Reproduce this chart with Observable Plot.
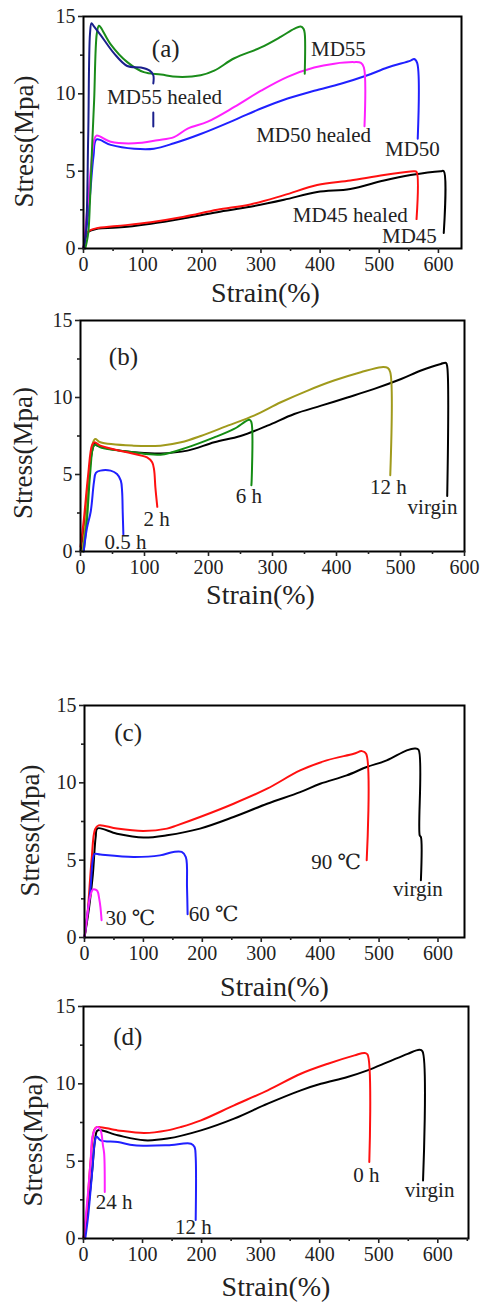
<!DOCTYPE html>
<html>
<head>
<meta charset="utf-8">
<script src="https://cdn.jsdelivr.net/npm/d3@7"></script>
<script src="https://cdn.jsdelivr.net/npm/@observablehq/plot@0.6"></script>
<style>
  html, body { margin: 0; padding: 0; background: #fff; }
  #wrap { position: relative; width: 480px; height: 1303px; overflow: hidden; }
  #wrap svg { position: absolute; left: 0; overflow: visible; background: transparent; }
</style>
</head>
<body>
<div id="wrap"></div>
<script>
// ---------- tick values ----------
const xMajor = [0, 100, 200, 300, 400, 500, 600];
const xMinor = [50, 150, 250, 350, 450, 550, 650];
const yMajor = [0, 5, 10, 15];
const yMinor = [2.5, 7.5, 12.5];

// ---------- panel (a) ----------
const a_MD55 = [[3,0],[8,1],[11,3.1],[15,7],[18,9.6],[22.5,13.9],[26,14.4],[29,14.3],[46,13.2],[74,12.05],[102,11.4],[131,11.25],[159,11.1],[198,11.2],[221,11.5],[255,12.3],[300,13.0],[334,13.7],[356,14.2],[367,14.35],[372,14.2],[374,13.9],[374,11.3]];
const a_MD55h = [[0,0],[4,1.0],[8,7.4],[11,13.9],[13.5,14.57],[17,14.4],[29,13.8],[52,12.6],[74,11.8],[97,11.7],[112,11.5],[118,11.2],[118,10.67],[118,NaN],[118,8.79],[118,7.89]];
const a_MD50h = [[0,0],[5,2],[12,5],[18,7],[22,7.3],[46,6.9],[86,6.8],[125,7.0],[153,7.2],[176,7.75],[210,8.2],[255,9.15],[300,10.2],[345,11.1],[390,11.7],[424,11.95],[457,12.05],[469,12.0],[474,11.7],[475,7.9]];
const a_MD50 = [[0,0],[4,1],[10,3],[17,6],[22,7.05],[46,6.7],[86,6.45],[119,6.45],[153,6.8],[198,7.4],[255,8.3],[300,9.05],[345,9.7],[390,10.2],[435,10.65],[480,11.2],[514,11.7],[553,12.15],[559,12.25],[564,12.0],[565,7.1]];
const a_MD45h = [[0,0],[2,0.5],[5,1.0],[10,1.15],[21,1.3],[57,1.45],[114,1.7],[170,2.05],[226,2.5],[282,2.85],[339,3.45],[395,4.1],[451,4.4],[508,4.75],[559,5.0],[563,4.95],[563,1.9]];
const a_MD45 = [[0,0],[3,0.6],[6,1.0],[12,1.15],[25,1.3],[57,1.35],[114,1.6],[170,1.95],[226,2.35],[282,2.7],[339,3.15],[395,3.65],[451,3.85],[508,4.4],[553,4.75],[604,5.0],[609,5.0],[609,1.0]];
const a_labels = ["(a)", "MD55", "MD55 healed", "MD50 healed", "MD50", "MD45 healed", "MD45"];
const a_labelX = [139, 431, 137, 389, 556, 451, 551];
const a_labelY = [12.93, 12.86, 9.76, 7.3, 6.4, 2.13, 0.78];

// ---------- panel (b) ----------
const b_virgin = [[0,0],[5,1.5],[12,4.5],[18,6.5],[22,7.0],[26,6.87],[83,6.44],[125,6.37],[167,6.55],[209,7.09],[250,7.5],[292,8.17],[334,8.93],[376,9.47],[417,10.0],[459,10.56],[501,11.2],[532,11.75],[563,12.18],[571,12.25],[573,12.0],[573,3.6]];
const b_12h = [[3,0],[8,2],[14,5],[19,7],[23,7.3],[31,7.09],[83,6.87],[125,6.87],[157,7.09],[188,7.5],[230,8.17],[271,8.82],[313,9.69],[355,10.45],[396,11.1],[438,11.64],[470,11.97],[480,11.92],[484,11.64],[484,4.95]];
const b_6h = [[5,0],[10,2],[15,5],[20,6.8],[24,6.95],[31,6.76],[83,6.44],[125,6.29],[167,6.76],[209,7.41],[240,7.96],[264,8.55],[267,8.4],[267,4.3]];
const b_2h = [[0,0.3],[5,2],[12,5],[18,6.9],[22,7.1],[31,6.87],[73,6.44],[104,6.11],[112,5.8],[115,5.3],[117,4.16],[120,2.9]];
const b_05h = [[5,0],[10,1.5],[16,2.6],[21,4.5],[24,5.1],[31,5.25],[47,5.25],[57,5.03],[63,4.6],[65,3.9],[66,2.5],[67,1.1]];
const b_labels = ["(b)", "12 h", "virgin", "6 h", "2 h", "0.5 h"];
const b_labelX = [67, 481, 550, 263, 119, 70.5];
const b_labelY = [12.6, 4.16, 2.86, 3.57, 2.08, 0.58];

// ---------- panel (c) ----------
const c_virgin = [[0,0],[8,2],[14,4],[19,6.5],[22,7.05],[55,6.71],[100,6.46],[140,6.61],[196,7.04],[253,7.79],[310,8.65],[366,9.4],[400,9.94],[445,10.48],[479,11.02],[513,11.45],[547,12.1],[561,12.22],[567,12.14],[569,6.6],[571,6.5],[571,3.7]];
const c_90 = [[0,0],[5,1.5],[12,5],[18,7],[24,7.25],[55,7.04],[100,6.89],[140,7.04],[157,7.25],[196,7.79],[253,8.65],[310,9.62],[366,10.8],[411,11.45],[457,11.88],[471,12.05],[478,11.88],[479,5.0]];
const c_60 = [[0,0],[5,1.5],[10,3.1],[14,5],[17,5.4],[27,5.36],[83,5.2],[128,5.31],[151,5.53],[165,5.53],[172,5.2],[174,3.27],[175,1.5]];
const c_30 = [[0,0],[5,1.55],[10,2.7],[14,3.1],[18,3.1],[22,3.0],[25,2.5],[27,1.98],[29,1.12]];
const c_labels = ["(c)", "90 ℃", "virgin", "60 ℃", "30 ℃"];
const c_labelX = [74, 427, 566, 219, 78];
const c_labelY = [13.2, 4.87, 3.12, 1.51, 1.24];

// ---------- panel (d) ----------
const d_virgin = [[0,0],[8,2],[15,4.5],[20,6.5],[24,6.99],[58,6.67],[103,6.35],[142,6.46],[199,6.99],[255,7.75],[312,8.72],[368,9.58],[402,10.0],[447,10.44],[481,10.87],[515,11.4],[549,11.94],[569,12.2],[574,12.1],[575,3.75]];
const d_0h = [[0,0],[5,1.5],[12,5],[18,7],[22,7.2],[58,6.99],[103,6.82],[142,6.99],[165,7.21],[199,7.64],[255,8.61],[312,9.58],[368,10.65],[414,11.3],[459,11.84],[476,12.0],[481,11.9],[484,4.95]];
const d_12h = [[3,0],[8,1.5],[14,4],[19,6.2],[22,6.6],[29,6.35],[58,6.24],[86,6.03],[142,6.03],[182,6.13],[188,5.92],[190,5.27],[190,1.2]];
const d_24h = [[0,0],[7,2.69],[12,5],[15,6.56],[20,7.1],[24,7.21],[29,6.99],[33,6.0],[35,5.49],[36,3.0]];
const d_labels = ["(d)", "0 h", "virgin", "24 h", "12 h"];
const d_labelX = [75, 479, 586, 52, 186];
const d_labelY = [13.0, 4.09, 3.12, 2.35, 0.73];

// ---------- drawing ----------
const FONT = "'Liberation Serif', 'Times New Roman', 'DejaVu Serif', serif";

function panel({top, height, mt, mb, ml, mr, xmax, series, labels, lx, ly, xTitleDx, xTitleDy, yTitleDx, yTitleDy}) {
  const marks = [];
  for (const s of series) {
    marks.push(Plot.line(s.data, {x: d => d[0], y: d => d[1], stroke: s.color, strokeWidth: 2, curve: "catmull-rom", strokeLinejoin: "round"}));
  }
  const lbl = labels.map((t, i) => ({t, x: lx[i], y: ly[i], big: i === 0}));
  marks.push(Plot.text(lbl.filter(d => !d.big), {x: "x", y: "y", text: "t", fontSize: 21, fill: "#222", textAnchor: "middle", lineAnchor: "middle", fontFamily: FONT}));
  marks.push(Plot.text(lbl.filter(d => d.big), {x: "x", y: "y", text: "t", fontSize: 25, fill: "#222", textAnchor: "middle", lineAnchor: "middle", fontFamily: FONT}));
  marks.push(Plot.frame({stroke: "black", strokeWidth: 2}));
  marks.push(Plot.axisX({ticks: xMajor, tickSize: 5, tickPadding: 3, fontSize: 20, label: null, strokeWidth: 1.6, tickFormat: d => String(d)}));
  marks.push(Plot.axisX({ticks: xMinor.filter(v => v <= xmax), tickSize: 3, label: null, strokeWidth: 1.6, tickFormat: () => ""}));
  marks.push(Plot.axisY({ticks: yMajor, tickSize: 5, tickPadding: 3, fontSize: 20, label: null, strokeWidth: 1.6, tickFormat: d => String(d)}));
  marks.push(Plot.axisY({ticks: yMinor, tickSize: 3, label: null, strokeWidth: 1.6, tickFormat: () => ""}));
  marks.push(Plot.text(["Strain(%)"], {frameAnchor: "bottom", dx: xTitleDx, dy: xTitleDy, fontSize: 28, textAnchor: "middle", lineAnchor: "middle", fill: "#222", fontFamily: FONT}));
  marks.push(Plot.text(["Stress(Mpa)"], {frameAnchor: "left", rotate: -90, dx: yTitleDx, dy: yTitleDy, fontSize: 27, textAnchor: "middle", lineAnchor: "middle", fill: "#222", fontFamily: FONT}));
  const svg = Plot.plot({
    width: 480, height,
    marginTop: mt, marginBottom: mb, marginLeft: ml, marginRight: mr,
    x: {domain: [0, xmax]},
    y: {domain: [0, 15]},
    style: {fontFamily: FONT, color: "#222", background: "transparent", overflow: "visible"},
    marks
  });
  svg.style.top = top + "px";
  document.getElementById("wrap").appendChild(svg);
}

panel({top: 0, height: 310, mt: 16, mb: 62, ml: 83, mr: 19, xmax: 639,
  series: [
    {data: a_MD45, color: "#000000"},
    {data: a_MD45h, color: "#ff1010"},
    {data: a_MD50, color: "#2020ff"},
    {data: a_MD50h, color: "#ff20ff"},
    {data: a_MD55, color: "#1a8c1a"},
    {data: a_MD55h, color: "#1a1f8c"}
  ],
  labels: a_labels, lx: a_labelX, ly: a_labelY,
  xTitleDx: -7, xTitleDy: 45, yTitleDx: -59, yTitleDy: 9});

panel({top: 310, height: 310, mt: 10, mb: 69, ml: 80, mr: 16, xmax: 600,
  series: [
    {data: b_virgin, color: "#000000"},
    {data: b_12h, color: "#a09a1c"},
    {data: b_6h, color: "#138c13"},
    {data: b_2h, color: "#ff1010"},
    {data: b_05h, color: "#2020ff"}
  ],
  labels: b_labels, lx: b_labelX, ly: b_labelY,
  xTitleDx: -12, xTitleDy: 44, yTitleDx: -57, yTitleDy: 17});

panel({top: 660, height: 335, mt: 45, mb: 58, ml: 84, mr: 16, xmax: 645,
  series: [
    {data: c_virgin, color: "#000000"},
    {data: c_90, color: "#ff1010"},
    {data: c_60, color: "#2020ff"},
    {data: c_30, color: "#ff20ff"}
  ],
  labels: c_labels, lx: c_labelX, ly: c_labelY,
  xTitleDx: 0, xTitleDy: 50, yTitleDx: -54, yTitleDy: 9});

panel({top: 995, height: 308, mt: 11, mb: 65, ml: 83, mr: 12, xmax: 652,
  series: [
    {data: d_virgin, color: "#000000"},
    {data: d_0h, color: "#ff1010"},
    {data: d_12h, color: "#2020ff"},
    {data: d_24h, color: "#ff20ff"}
  ],
  labels: d_labels, lx: d_labelX, ly: d_labelY,
  xTitleDx: 0, xTitleDy: 49, yTitleDx: -50, yTitleDy: 18});
</script>
</body>
</html>
